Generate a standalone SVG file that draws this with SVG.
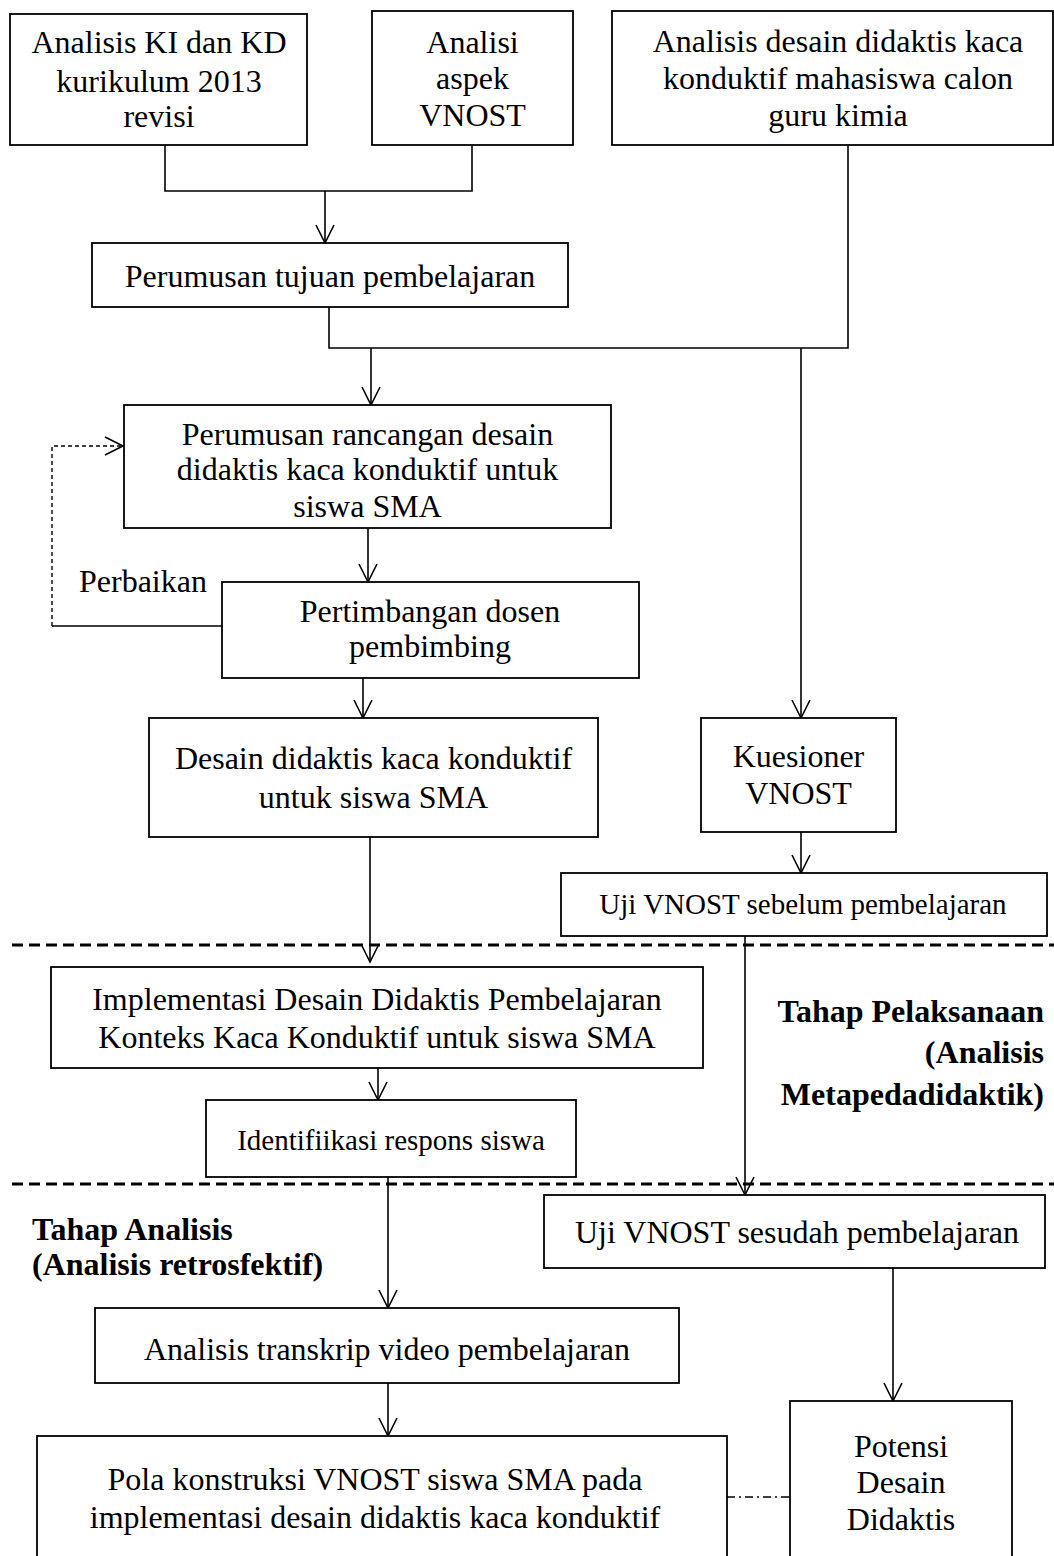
<svg xmlns="http://www.w3.org/2000/svg" width="1054" height="1556" viewBox="0 0 1054 1556">
<style>
.box{fill:#fff;stroke:#000;stroke-width:1.8}
.t{font-family:"Liberation Serif","Times New Roman",serif;font-size:32px;fill:#000;text-anchor:middle}
.s{font-size:29px}
.b{font-family:"Liberation Serif","Times New Roman",serif;font-size:32px;font-weight:bold;fill:#000}
.c{fill:none;stroke:#000;stroke-width:1.6}
.a{marker-end:url(#arr)}
.fb{fill:none;stroke:#000;stroke-width:1.4;stroke-dasharray:4 3}
.sep{fill:none;stroke:#000;stroke-width:3;stroke-dasharray:11 6}
.dd{fill:none;stroke:#000;stroke-width:1.4;stroke-dasharray:8 4 2 4}
</style>
<defs>
<marker id="arr" markerUnits="userSpaceOnUse" markerWidth="40" markerHeight="40" refX="0" refY="0" orient="auto" overflow="visible" viewBox="-20 -20 40 40">
<path d="M-18,-9 L0,0 L-18,9" fill="none" stroke="#000" stroke-width="1.6"/>
</marker>
</defs>

<g id="separators">
<line class="sep" x1="12" y1="945" x2="1054" y2="945"/>
<line class="sep" x1="12" y1="1184" x2="1054" y2="1184"/>
</g>

<g id="connectors">
<polyline class="c" points="165,145 165,191 472,191 472,145"/>
<line class="c a" x1="325" y1="191" x2="325" y2="243"/>
<polyline class="c" points="329,307 329,348 848,348 848,145"/>
<line class="c a" x1="371" y1="348" x2="371" y2="405"/>
<line class="c a" x1="801" y1="348" x2="801" y2="718"/>
<line class="c a" x1="368" y1="528" x2="368" y2="582"/>
<line class="c" x1="222" y1="626" x2="52" y2="626"/>
<polyline class="fb" points="52,626 52,446 123,446" marker-end="url(#arr)"/>
<line class="c a" x1="363" y1="678" x2="363" y2="718"/>
<line class="c a" x1="370" y1="837" x2="370" y2="962"/>
<line class="c a" x1="801" y1="832" x2="801" y2="873"/>
<line class="c a" x1="745" y1="936" x2="745" y2="1195"/>
<line class="c a" x1="378" y1="1068" x2="378" y2="1100"/>
<line class="c a" x1="388" y1="1177" x2="388" y2="1308"/>
<line class="c a" x1="893" y1="1268" x2="893" y2="1401"/>
<line class="c a" x1="388" y1="1383" x2="388" y2="1436"/>
<line class="dd" x1="727" y1="1497" x2="790" y2="1497"/>
</g>

<g id="n1"><rect class="box" x="10" y="14" width="297" height="131"/>
<text class="t" x="159" y="53">Analisis KI dan KD</text>
<text class="t" x="159" y="92">kurikulum 2013</text>
<text class="t" x="159" y="127">revisi</text></g>

<g id="n2"><rect class="box" x="372" y="11" width="201" height="134"/>
<text class="t" x="472.5" y="53">Analisi</text>
<text class="t" x="472.5" y="89">aspek</text>
<text class="t" x="472.5" y="126">VNOST</text></g>

<g id="n3"><rect class="box" x="612" y="11" width="441" height="134"/>
<text class="t" x="838" y="52">Analisis desain didaktis kaca</text>
<text class="t" x="838" y="89">konduktif mahasiswa calon</text>
<text class="t" x="838" y="126">guru kimia</text></g>

<g id="n4"><rect class="box" x="92" y="243" width="476" height="64"/>
<text class="t" x="330" y="287">Perumusan tujuan pembelajaran</text></g>

<g id="n5"><rect class="box" x="124" y="405" width="487" height="123"/>
<text class="t" x="367.5" y="445">Perumusan rancangan desain</text>
<text class="t" x="367.5" y="480">didaktis kaca konduktif untuk</text>
<text class="t" x="367.5" y="517">siswa SMA</text></g>

<g id="lblPerbaikan"><text class="t" x="79" y="592" style="text-anchor:start">Perbaikan</text></g>

<g id="n6"><rect class="box" x="222" y="582" width="417" height="96"/>
<text class="t" x="430" y="622">Pertimbangan dosen</text>
<text class="t" x="430" y="657">pembimbing</text></g>

<g id="n7"><rect class="box" x="149" y="718" width="449" height="119"/>
<text class="t" x="373.5" y="769">Desain didaktis kaca konduktif</text>
<text class="t" x="373.5" y="808">untuk siswa SMA</text></g>

<g id="n8"><rect class="box" x="701" y="718" width="195" height="114"/>
<text class="t" x="798.5" y="767">Kuesioner</text>
<text class="t" x="798.5" y="804">VNOST</text></g>

<g id="n9"><rect class="box" x="561" y="873" width="486" height="63"/>
<text class="t s" x="803" y="914">Uji VNOST sebelum pembelajaran</text></g>

<g id="n10"><rect class="box" x="51" y="967" width="652" height="101"/>
<text class="t" x="377" y="1010">Implementasi Desain Didaktis Pembelajaran</text>
<text class="t" x="377" y="1048">Konteks Kaca Konduktif untuk siswa SMA</text></g>

<g id="n11"><rect class="box" x="206" y="1100" width="370" height="77"/>
<text class="t s" x="391" y="1150">Identifiikasi respons siswa</text></g>

<g id="lblPelaksanaan">
<text class="b" x="1044" y="1022" text-anchor="end">Tahap Pelaksanaan</text>
<text class="b" x="1044" y="1063" text-anchor="end">(Analisis</text>
<text class="b" x="1044" y="1105" text-anchor="end">Metapedadidaktik)</text></g>

<g id="lblAnalisis">
<text class="b" x="32" y="1240">Tahap Analisis</text>
<text class="b" x="32" y="1275">(Analisis retrosfektif)</text></g>

<g id="n12"><rect class="box" x="544" y="1195" width="501" height="73"/>
<text class="t" x="797" y="1243">Uji VNOST sesudah pembelajaran</text></g>

<g id="n13"><rect class="box" x="95" y="1308" width="584" height="75"/>
<text class="t" x="387" y="1360">Analisis transkrip video pembelajaran</text></g>

<g id="n14"><rect class="box" x="37" y="1436" width="690" height="140"/>
<text class="t" x="375" y="1490">Pola konstruksi VNOST siswa SMA pada</text>
<text class="t" x="375" y="1528">implementasi desain didaktis kaca konduktif</text></g>

<g id="n15"><rect class="box" x="790" y="1401" width="222" height="175"/>
<text class="t" x="901" y="1457">Potensi</text>
<text class="t" x="901" y="1493">Desain</text>
<text class="t" x="901" y="1530">Didaktis</text></g>
</svg>
